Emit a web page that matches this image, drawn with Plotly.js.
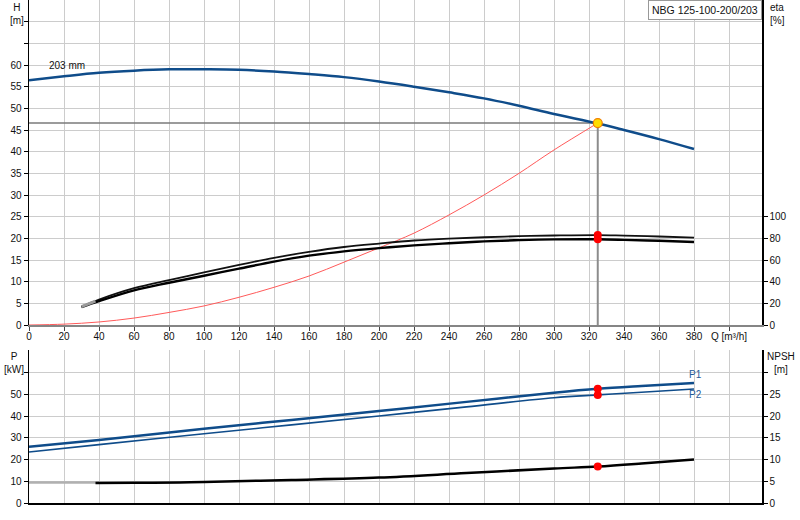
<!DOCTYPE html>
<html>
<head>
<meta charset="utf-8">
<script src="https://cdn.plot.ly/plotly-3.0.1.min.js"></script>
<style>html,body{margin:0;padding:0;background:#fff;}#chart{width:800px;height:520px;}</style>
</head>
<body>
<div id="chart"></div>
<script>
// ---- Data ----
var headQ = [0, 20, 40, 60, 80, 100, 120, 140, 160, 180, 200, 220, 240, 260, 280, 300, 325, 340, 360, 380];
var headH = [56.5, 57.4, 58.2, 58.7, 59.0, 59.0, 58.9, 58.5, 57.9, 57.2, 56.2, 55.0, 53.7, 52.3, 50.6, 48.7, 46.5, 45.0, 42.9, 40.6];

var sysQ = [0, 20, 40, 60, 80, 100, 120, 140, 160, 180, 200, 220, 240, 260, 280, 300, 325];
var sysH = [0, 0.2, 0.7, 1.6, 2.9, 4.4, 6.4, 8.7, 11.3, 14.5, 17.8, 21.2, 25.4, 30.0, 35.0, 40.4, 46.6];

var etaQ = [30, 40, 60, 80, 100, 120, 140, 160, 180, 200, 220, 240, 260, 280, 300, 325, 340, 360, 380];
var eta1 = [17, 23.5, 34, 41.5, 48.5, 55.5, 62, 67.5, 72, 75.2, 78, 79.8, 81, 82, 82.6, 83, 82.5, 81.7, 80.6];
var eta2 = [16.5, 22, 32, 39, 45.5, 52, 58.5, 64, 68, 71, 73.5, 75.5, 77.2, 78.3, 79, 79.1, 78.6, 77.7, 76.6];
var etaStartQ = [30, 38];
var etaStart = [17, 22];

var powQ = [0, 40, 100, 150, 200, 250, 300, 325, 350, 380];
var p1 = [25.9, 29.0, 34.2, 38.3, 42.4, 46.6, 50.8, 52.6, 53.9, 55.3];
var p2 = [23.5, 26.9, 31.9, 36.0, 40.1, 44.3, 48.5, 49.8, 51.0, 52.5];

var npshLowQ = [0, 40];
var npshLow = [4.75, 4.7];
var npshQ = [38, 60, 86, 100, 150, 200, 250, 300, 325, 350, 380];
var npsh = [4.6, 4.65, 4.75, 4.85, 5.3, 5.85, 6.9, 7.95, 8.4, 9.1, 10.05];

var dutyQ = 325;
var dutyH = 46.6;
var dutyEta = [83, 79.1];
var dutyP = [52.6, 49.8];
var dutyNpsh = 8.4;

var xTickVals = [0, 20, 40, 60, 80, 100, 120, 140, 160, 180, 200, 220, 240, 260, 280, 300, 320, 340, 360, 380, 400];
var xTickText = ['0','20','40','60','80','100','120','140','160','180','200','220','240','260','280','300','320','340','360','380','Q [m\u00b3/h]'];
var hTickVals = [0,5,10,15,20,25,30,35,40,45,50,55,60,65,70];
var hTickText = ['0','5','10','15','20','25','30','35','40','45','50','55','60','',''];
var etaTickVals = [0,20,40,60,80,100];
var pTickVals = [0,10,20,30,40,50,60];
var pTickText = ['0','10','20','30','40','50',''];
var npshTickVals = [0,5,10,15,20,25,30];
var npshTickText = ['0','5','10','15','20','25',''];

// ---- Styles ----
var BLUE = '#0f4c8a';
var FONT = 'Liberation Sans, Arial, sans-serif';
var GRID = '#cccccc';

var traces = [
  {x: sysQ, y: sysH, xaxis:'x', yaxis:'y', mode:'lines', line:{color:'#ff5a5a', width:1, shape:'spline'}},
  {x: [0, dutyQ], y: [dutyH, dutyH], xaxis:'x', yaxis:'y', mode:'lines', line:{color:'#7a7a7a', width:1.5}},
  {x: [dutyQ, dutyQ], y: [0, dutyH], xaxis:'x', yaxis:'y', mode:'lines', line:{color:'#8c8c8c', width:2}},
  {x: headQ, y: headH, xaxis:'x', yaxis:'y', mode:'lines', line:{color:BLUE, width:2.5, shape:'spline'}},
  {x: etaQ, y: eta1, xaxis:'x', yaxis:'y2', mode:'lines', line:{color:'#111', width:1.8, shape:'spline'}},
  {x: etaQ, y: eta2, xaxis:'x', yaxis:'y2', mode:'lines', line:{color:'#000', width:2.4, shape:'spline'}},
  {x: etaStartQ, y: etaStart, xaxis:'x', yaxis:'y2', mode:'lines', line:{color:'#9a9a9a', width:3}},
  {x: [dutyQ, dutyQ], y: dutyEta, xaxis:'x', yaxis:'y2', mode:'markers', marker:{color:'#ff0000', size:8}},
  {x: [dutyQ], y: [dutyH], xaxis:'x', yaxis:'y', mode:'markers', marker:{color:'#ffdd00', size:9, line:{color:'#f08000', width:1.2}}},
  {x: powQ, y: p1, xaxis:'x2', yaxis:'y3', mode:'lines', line:{color:BLUE, width:2.5, shape:'spline'}},
  {x: powQ, y: p2, xaxis:'x2', yaxis:'y3', mode:'lines', line:{color:BLUE, width:1.6, shape:'spline'}},
  {x: npshLowQ, y: npshLow, xaxis:'x2', yaxis:'y4', mode:'lines', line:{color:'#b0b0b0', width:2.5}},
  {x: npshQ, y: npsh, xaxis:'x2', yaxis:'y4', mode:'lines', line:{color:'#000', width:2.5, shape:'spline'}},
  {x: [dutyQ, dutyQ], y: dutyP, xaxis:'x2', yaxis:'y3', mode:'markers', marker:{color:'#ff0000', size:8}},
  {x: [dutyQ], y: [dutyNpsh], xaxis:'x2', yaxis:'y4', mode:'markers', marker:{color:'#ff0000', size:8}}
];

var xRange = [0, 418.86];
var tf = {family: FONT, size: 10, color: '#111'};

var layout = {
  width: 800, height: 520,
  margin: {l: 29, r: 38, t: 0, b: 17, pad: 0},
  paper_bgcolor: '#fff', plot_bgcolor: '#fff',
  showlegend: false,
  font: {family: FONT, size: 10, color: '#111'},
  xaxis: {domain:[0,1], anchor:'y', range:xRange, tickmode:'array', tickvals:xTickVals, ticktext:xTickText,
    showgrid:true, gridcolor:GRID, gridwidth:1, zeroline:false, showline:true, linecolor:'#858585', linewidth:2,
    ticks:'outside', ticklen:4, tickcolor:'#444', tickfont:tf, ticklabelstandoff:-3},
  yaxis: {domain:[0.35388,1], anchor:'x', range:[0,75], tickmode:'array', tickvals:hTickVals, ticktext:hTickText,
    showgrid:true, gridcolor:GRID, gridwidth:1, zeroline:false, showline:true, linecolor:'#000', linewidth:1.5,
    ticks:'outside', ticklen:4, tickcolor:'#000', tickfont:tf},
  yaxis2: {overlaying:'y', anchor:'x', side:'right', range:[0,300], tickmode:'array', tickvals:etaTickVals,
    showgrid:false, zeroline:false, showline:true, linecolor:'#000', linewidth:1.5,
    ticks:'outside', ticklen:4, tickcolor:'#000', tickfont:tf},
  xaxis2: {domain:[0,1], anchor:'y3', range:xRange, tickmode:'array', tickvals:xTickVals, showticklabels:false,
    showgrid:true, gridcolor:GRID, gridwidth:1, zeroline:false, showline:true, linecolor:'#000', linewidth:1.5, ticks:''},
  yaxis3: {domain:[0,0.30417], anchor:'x2', range:[0,70.5], tickmode:'array', tickvals:pTickVals, ticktext:pTickText,
    showgrid:true, gridcolor:GRID, gridwidth:1, zeroline:false, showline:true, linecolor:'#000', linewidth:1.5,
    ticks:'outside', ticklen:4, tickcolor:'#000', tickfont:tf},
  yaxis4: {overlaying:'y3', anchor:'x2', side:'right', range:[0,35.25], tickmode:'array', tickvals:npshTickVals, ticktext:npshTickText,
    showgrid:false, zeroline:false, showline:true, linecolor:'#000', linewidth:1.5,
    ticks:'outside', ticklen:4, tickcolor:'#000', tickfont:tf},
  annotations: [
    {xref:'paper', yref:'paper', x:-0.0164, y:1, xanchor:'center', yanchor:'top', text:'H<br>[m]', showarrow:false, font:tf, align:'center'},
    {xref:'paper', yref:'paper', x:1.0082, y:1, xanchor:'left', yanchor:'top', text:'eta<br>[%]', showarrow:false, font:tf, align:'left'},
    {xref:'paper', yref:'paper', x:-0.0205, y:0.306, xanchor:'center', yanchor:'top', text:'P<br>[kW]', showarrow:false, font:tf, align:'center'},
    {xref:'paper', yref:'paper', x:1.0259, y:0.306, xanchor:'center', yanchor:'top', text:'NPSH<br>[m]', showarrow:false, font:tf, align:'center'},
    {xref:'paper', yref:'paper', x:1, y:1, xanchor:'right', yanchor:'top', text:'NBG 125-100-200/203', showarrow:false,
      font:{family:FONT, size:10.5, color:'#111'}, bgcolor:'#fff', bordercolor:'#999', borderwidth:1, borderpad:3},
    {xref:'x', yref:'y', x:10.3, y:59.8, xanchor:'left', yanchor:'middle', text:'203 mm', showarrow:false, font:tf},
    {xref:'x2', yref:'y3', x:376, y:59.3, xanchor:'left', yanchor:'middle', text:'P1', showarrow:false, font:{family:FONT, size:10, color:'#1f5a99'}},
    {xref:'x2', yref:'y3', x:376, y:50.1, xanchor:'left', yanchor:'middle', text:'P2', showarrow:false, font:{family:FONT, size:10, color:'#1f5a99'}}
  ]
};

Plotly.newPlot('chart', traces, layout, {displayModeBar:false, staticPlot:true});
</script>
</body>
</html>
